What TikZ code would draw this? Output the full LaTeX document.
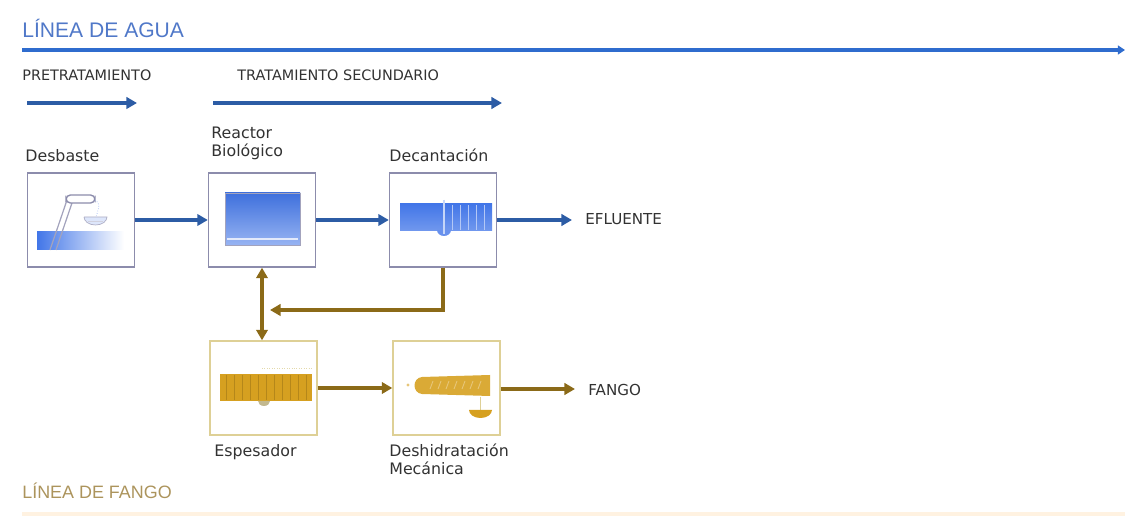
\documentclass[tikz,border=0pt]{standalone}
\usepackage{fontspec}
\setmainfont{DejaVu Sans}
\newfontfamily\headfont{Liberation Sans}
\usetikzlibrary{arrows.meta,positioning,calc}
\definecolor{lineablue}{RGB}{47,108,206}
\definecolor{flechablue}{RGB}{44,92,165}
\definecolor{headblue}{RGB}{80,120,200}
\definecolor{boxframe}{RGB}{140,140,172}
\definecolor{sludgebrown}{RGB}{139,106,24}
\definecolor{fangoframe}{RGB}{222,208,150}
\definecolor{gold}{RGB}{214,160,32}
\definecolor{headfango}{RGB}{172,148,92}
\definecolor{textgray}{RGB}{50,50,50}
\definecolor{waterblue}{RGB}{66,118,232}
\definecolor{cream}{RGB}{255,242,225}

\begin{document}
\begin{tikzpicture}[
    x=0.02cm, y=-0.02cm,
    aguabox/.style={rectangle, draw=boxframe, line width=0.8pt, fill=white, minimum width=2.14cm, minimum height=1.88cm, inner sep=0pt},
    fangobox/.style={aguabox, draw=fangoframe},
    water/.style={line width=1.9pt, flechablue, -{Triangle[length=6pt,width=6.5pt]}},
    sludge/.style={line width=1.9pt, sludgebrown, -{Triangle[length=6pt,width=6.5pt]}},
    stage/.style={font=\fontsize{8.2}{9.6}\selectfont, textgray, anchor=west, inner sep=0pt},
    label/.style={font=\fontsize{9}{10.2}\selectfont, textgray, align=left, inner sep=0pt},
    outlet/.style={font=\fontsize{8.6}{10}\selectfont, textgray, anchor=west, inner sep=0pt},
    heading/.style={font=\headfont\fontsize{12}{14}\selectfont, anchor=west, inner sep=0pt}
]
\useasboundingbox (0,0) rectangle (1125,516);

% Headings
\node[heading, headblue] (agua) at (22,28) {LÍNEA DE AGUA};
\node[heading, headfango, font=\headfont\fontsize{10.2}{12}\selectfont] (lfango) at (22,491) {LÍNEA DE FANGO};

% Main water line
\coordinate (aguaini) at (22,50);
\coordinate (aguafin) at (1125,50);
\draw[line width=1.9pt, lineablue, -{Triangle[length=4pt,width=5pt]}] (aguaini) -- (aguafin);

% Stages
\node[stage] (pretrat) at (22,75) {PRETRATAMIENTO};
\node[stage] (secund) at (237,75) {TRATAMIENTO SECUNDARIO};
\coordinate (preini) at (27,103);
\coordinate (prefin) at (137,103);
\coordinate (secini) at (213,103);
\coordinate (secfin) at (502,103);
\draw[water] (preini) -- (prefin);
\draw[water] (secini) -- (secfin);

% Water line units
\node[aguabox] (desbaste) at (81,220) {};
\node[aguabox] (reactor) at (262,220) {};
\node[aguabox] (decantacion) at (443,220) {};

\node[label, anchor=south west] at (25,162) {Desbaste};
\node[label, anchor=south west] at (211,160) {Reactor\\Biológico};
\node[label, anchor=south west] at (389,162) {Decantación};

% Sludge line units
\node[fangobox] (espesador) at (263.5,388) {};
\node[fangobox] (deshidratacion) at (446.5,388) {};

\node[label, anchor=north west] at (214,444) {Espesador};
\node[label, anchor=north west] at (389,444) {Deshidratación\\Mecánica};

% Outlets
\coordinate (efluin) at (572,220);
\coordinate (fangoin) at (575,389);
\node[outlet] (efluente) at (585,219) {EFLUENTE};
\node[outlet] (fango) at (588,390) {FANGO};

% Desbaste: screen and water channel
\shade[left color=waterblue, right color=white] (37,232) rectangle (124,250);
\draw[boxframe!80, line width=0.7pt] (50,250) -- (67,200) (56,250) -- (73,200);
\draw[boxframe, line width=0.8pt, fill=white, rounded corners=2.5pt] (66,195) rectangle (95,203);
\draw[waterblue!50, densely dotted] (95,200) .. controls (100,204) .. (96,217);
\draw[boxframe!70, fill=waterblue!18] (84,217) -- (107,217) arc (0:180:11.5 and 8) -- cycle;
\draw[boxframe!40] (88,221) -- (103,221);

% Reactor: tank
\shade[top color=waterblue!95!black, bottom color=waterblue!55] (225,193) rectangle (300,245);
\draw[white!85!waterblue, line width=0.8pt] (227,239) -- (298,239);
\draw[boxframe!80, line width=0.5pt] (225,193) rectangle (300,245);

% Decantacion: clarifier
\shade[top color=waterblue, bottom color=waterblue!75] (400,204) rectangle (492,231);
\foreach \xx in {452,460,...,484}
  \draw[white!60!waterblue, line width=0.5pt] (\xx,205) -- (\xx,230);
\fill[waterblue!80] (437,230) arc (180:0:7 and 6) -- cycle;
\draw[white!70!waterblue, line width=0.8pt] (444,200) -- (444,234);

% Espesador: thickener
\fill[gold] (220,374) rectangle (312,401);
\foreach \xx in {226,234,...,306}
  \draw[gold!70!black, line width=0.4pt, opacity=0.5] (\xx,375) -- (\xx,400);
\draw[fangoframe!80, densely dotted] (262,368) -- (312,368);
\fill[fangoframe!70!gray] (258,401) -- (270,401) arc (0:180:6 and 5) -- cycle;

% Deshidratacion: centrifuge
\fill[gold!90] (422,377) -- (490,375) -- (490,396) -- (422,394) .. controls (412,393) and (412,378) .. (422,377) -- cycle;
\foreach \xx in {430,438,...,478}
  \draw[gold!60!white, line width=0.5pt] (\xx,389) -- (\xx+3,381);
\fill[gold!60] (408,385) circle (1.6);
\draw[fangoframe, line width=0.5pt] (480,397) -- (480,410);
\fill[gold] (469,410) -- (492,410) arc (0:180:11.5 and 8) -- cycle;

% Water flow
\draw[water] (desbaste) -- (reactor);
\draw[water] (reactor) -- (decantacion);
\draw[water] (decantacion) -- (efluin);

% Sludge flow
\coordinate (retorno) at (270,310);
\draw[sludge] (decantacion.south) |- (retorno);
\draw[sludge, {Triangle[length=6pt,width=6.5pt]}-{Triangle[length=6pt,width=6.5pt]}] (reactor.south) -- (reactor.south |- espesador.north);
\draw[sludge] (espesador) -- (deshidratacion);
\draw[sludge] (deshidratacion.east |- fangoin) -- (fangoin);

% Bottom band
\fill[cream] (22,512) rectangle (1125,516);
\end{tikzpicture}
\end{document}
